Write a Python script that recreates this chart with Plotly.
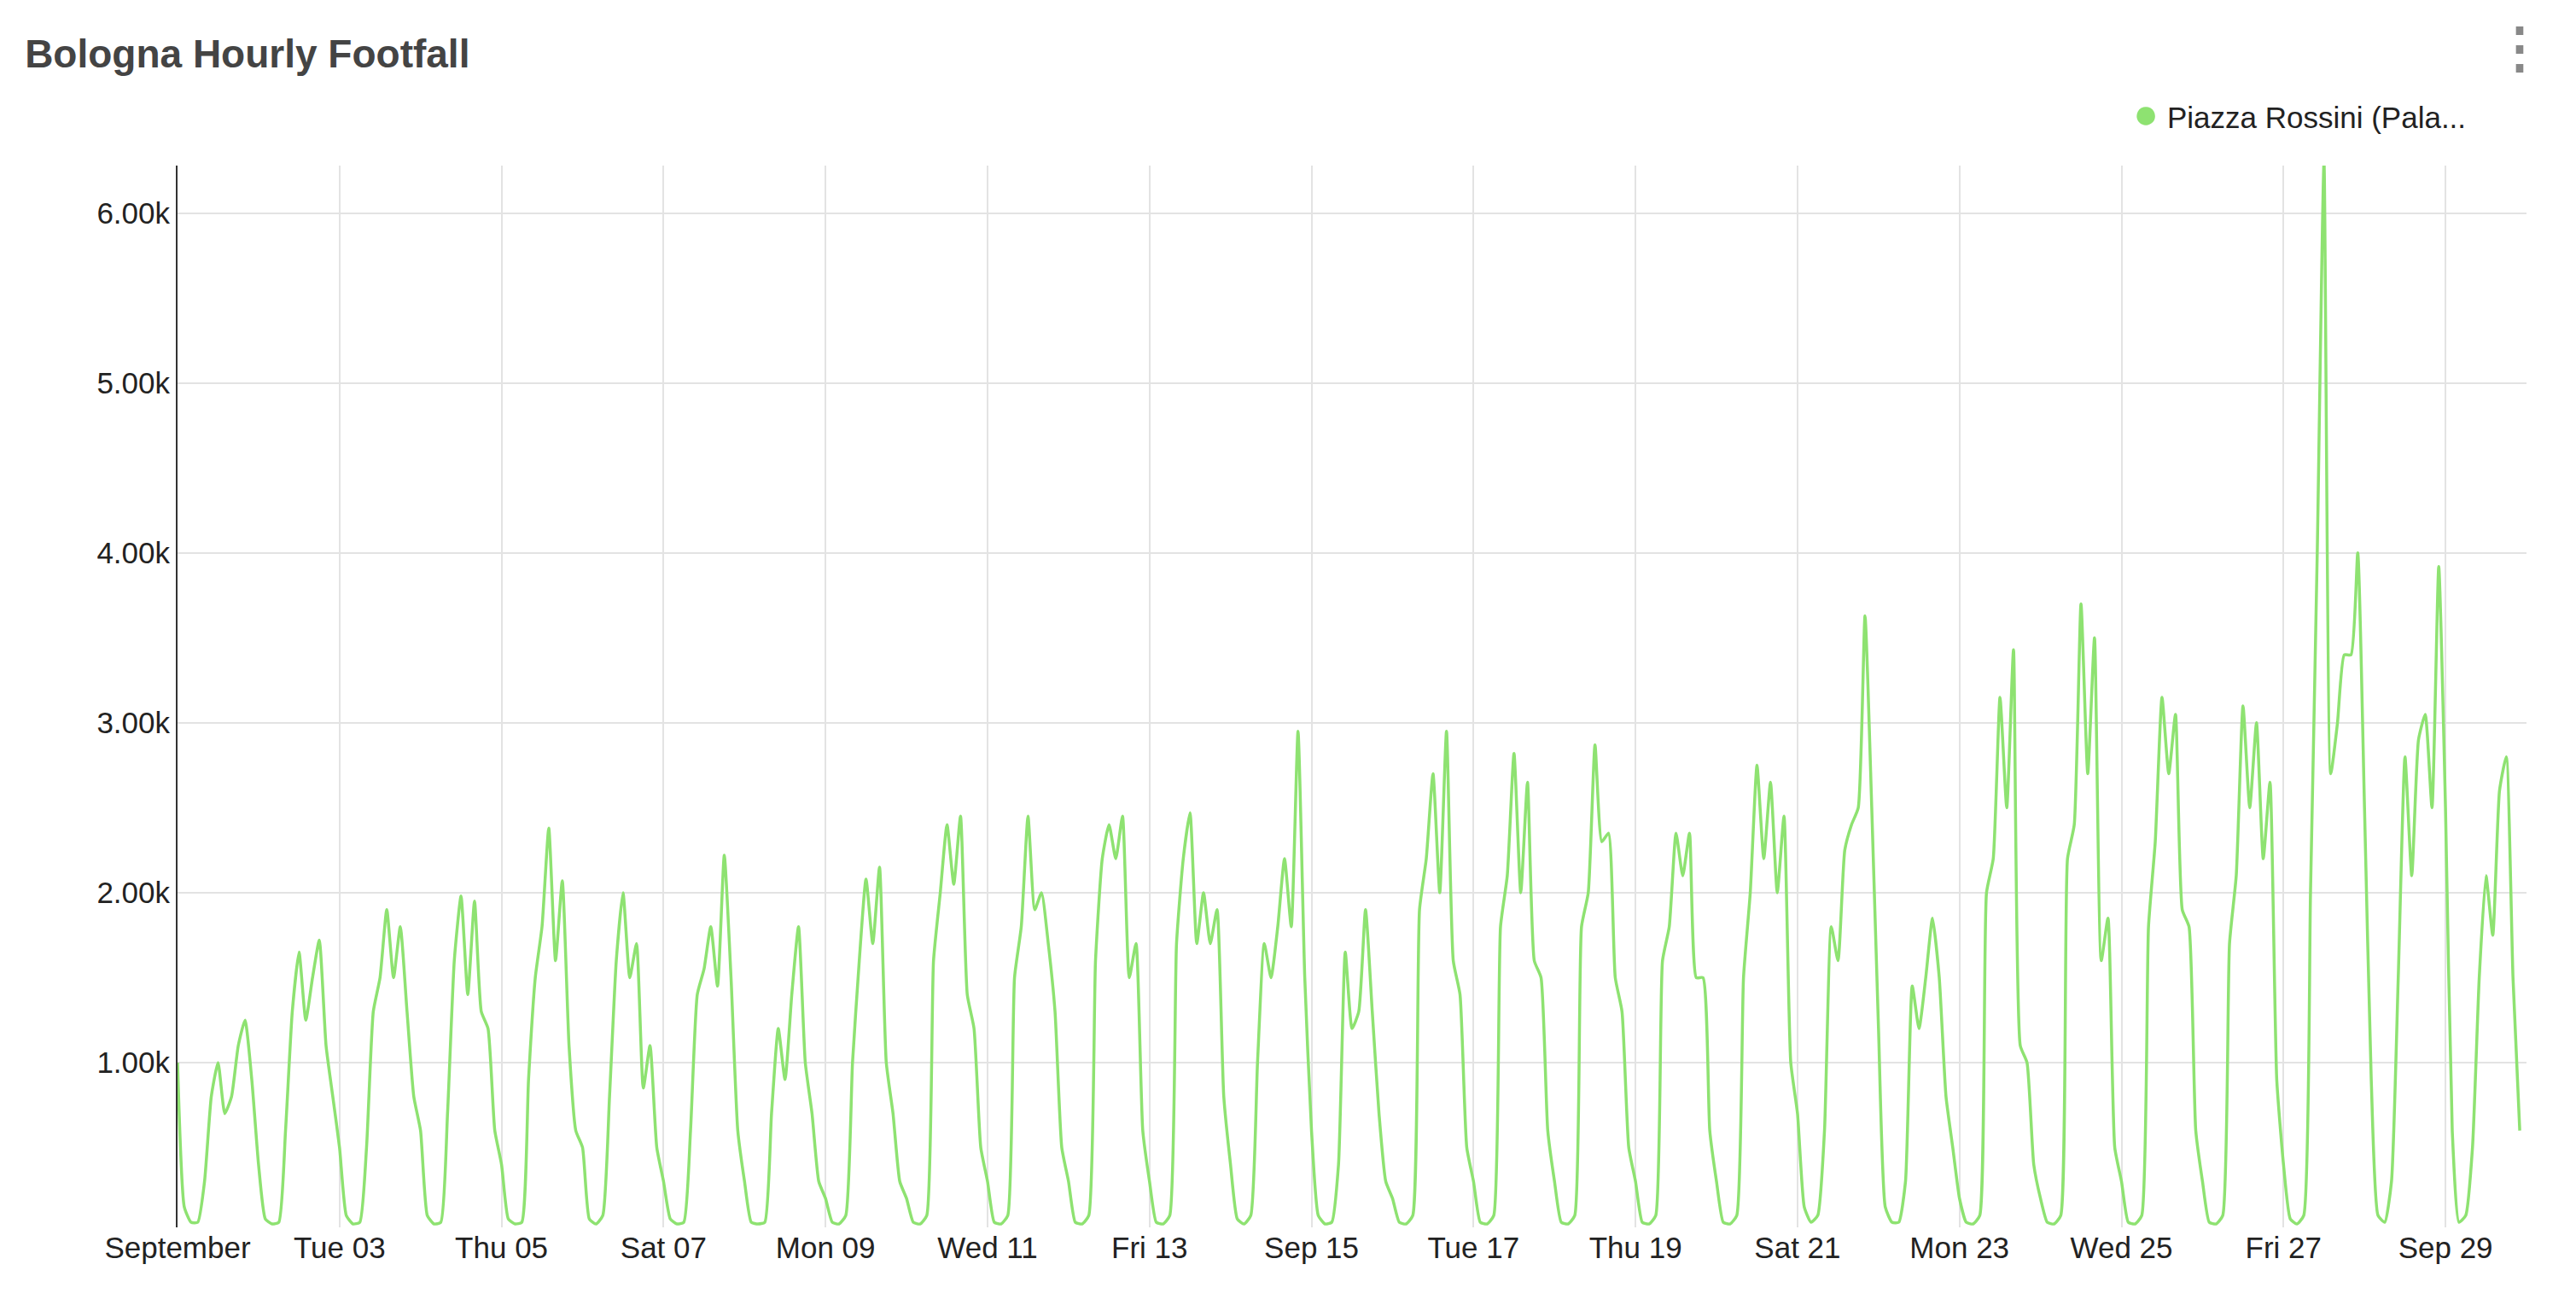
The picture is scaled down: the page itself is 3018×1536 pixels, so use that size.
import pandas as pd
import plotly.graph_objects as go

# 2-hourly samples per day (hours 0,2,...,22), Sep 1 - Sep 29
days = [
 [1000,150,60,60,300,800,1000,700,800,1100,1250,900],
 [400,80,50,60,600,1300,1650,1250,1500,1720,1100,800],
 [500,100,50,60,500,1300,1500,1900,1500,1800,1300,800],
 [600,100,50,60,700,1600,1980,1400,1950,1300,1200,600],
 [400,80,50,60,900,1500,1800,2380,1600,2070,1100,600],
 [500,80,50,100,800,1600,2000,1500,1700,850,1100,500],
 [300,80,50,60,600,1400,1550,1800,1450,2220,1500,600],
 [300,60,50,60,700,1200,900,1400,1800,1000,700,300],
 [200,60,50,100,1000,1600,2080,1700,2150,1000,700,300],
 [200,60,50,100,1600,2000,2400,2050,2450,1400,1200,500],
 [300,60,50,100,1500,1800,2450,1900,2000,1700,1300,500],
 [300,60,50,100,1600,2200,2400,2200,2450,1500,1700,600],
 [300,60,50,100,1700,2200,2470,1700,2000,1700,1900,800],
 [400,80,50,100,1000,1700,1500,1800,2200,1800,2950,1500],
 [600,100,50,60,400,1650,1200,1300,1900,1300,700,300],
 [200,60,50,100,1900,2200,2700,2000,2950,1600,1400,500],
 [300,60,50,100,1800,2100,2820,2000,2650,1600,1500,600],
 [300,60,50,100,1800,2000,2870,2300,2350,1500,1300,500],
 [300,60,50,100,1600,1800,2350,2100,2350,1500,1500,600],
 [300,60,50,100,1500,2000,2750,2200,2650,2000,2450,1000],
 [700,150,60,100,600,1800,1600,2250,2400,2500,3630,2500],
 [1200,150,60,60,300,1450,1200,1500,1850,1500,800,500],
 [200,60,50,100,2000,2200,3150,2500,3430,1100,1000,400],
 [200,60,50,100,2200,2400,3700,2700,3500,1600,1850,500],
 [300,60,50,100,1800,2300,3150,2700,3050,1900,1800,600],
 [300,60,50,100,1700,2100,3100,2500,3000,2200,2650,900],
 [400,80,50,100,2000,4000,6300,2700,3000,3400,3400,4000],
 [2500,900,100,60,300,1500,2800,2100,2900,3050,2500,3920],
 [2500,600,60,100,500,1500,2100,1750,2600,2800,1500,600],
]
values = [v for d in days for v in d]
times = pd.date_range("2024-09-01 00:00", periods=len(values), freq="2h")

tick_dates = ["2024-09-01","2024-09-03","2024-09-05","2024-09-07","2024-09-09","2024-09-11",
              "2024-09-13","2024-09-15","2024-09-17","2024-09-19","2024-09-21","2024-09-23",
              "2024-09-25","2024-09-27","2024-09-29"]
tick_labels = ["September","Tue 03","Thu 05","Sat 07","Mon 09","Wed 11","Fri 13","Sep 15",
               "Tue 17","Thu 19","Sat 21","Mon 23","Wed 25","Fri 27","Sep 29"]
series_name = "Piazza Rossini (Pala..."
color = "#8ee271"

fig = go.Figure()
fig.add_trace(go.Scatter(x=times, y=values, mode="lines", name=series_name, showlegend=False,
                         line=dict(color=color, width=3.5, shape="spline", smoothing=0.5)))
fig.update_layout(
    width=3018, height=1536, paper_bgcolor="white", plot_bgcolor="white",
    font=dict(family="Liberation Sans, Arial", size=35, color="#222"),
    margin=dict(l=200, r=66, t=186, b=106),
    title=dict(text="<b>Bologna Hourly Footfall</b>", x=0.007, xanchor="left", y=0.975, yanchor="top",
               font=dict(size=46, color="#444")),
    showlegend=False,
    xaxis=dict(range=["2024-09-01 00:00", "2024-09-30 00:00"], tickvals=tick_dates, ticktext=tick_labels,
               showgrid=True, gridcolor="#e3e3e3", gridwidth=2, showline=False, ticks="", zeroline=False),
    yaxis=dict(range=[30, 6280], tickvals=[1000,2000,3000,4000,5000,6000],
               ticktext=["1.00k","2.00k","3.00k","4.00k","5.00k","6.00k"],
               showgrid=True, gridcolor="#e3e3e3", gridwidth=2, showline=True, linecolor="#333",
               linewidth=2, ticks="", zeroline=False),
)
fig.add_annotation(text=f"<span style='color:{color};font-size:50px'>●</span> {series_name}",
                   xref="paper", yref="paper", x=0.975, y=1.025, xanchor="right", yanchor="bottom",
                   showarrow=False, font=dict(size=35, color="#222"))
fig.add_annotation(text="<b>⋮</b>", xref="paper", yref="paper", x=0.997, y=1.08, xanchor="center", yanchor="bottom",
                   showarrow=False, font=dict(size=64, color="#888"))
fig.write_html("out.html")
